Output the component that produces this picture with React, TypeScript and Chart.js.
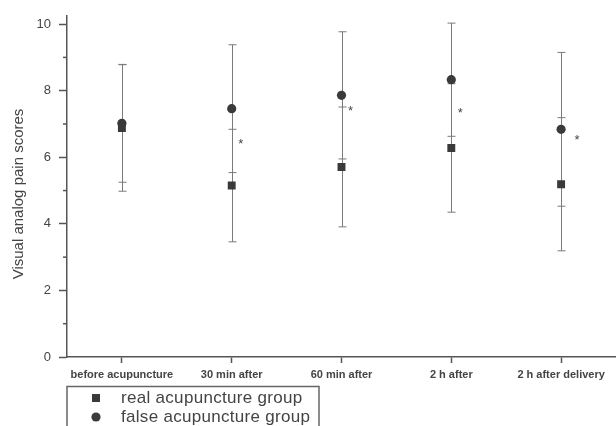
import React, { useEffect, useRef } from "react";
import { Chart, registerables } from "chart.js";

Chart.register(...registerables);

const categories = ["before acupuncture", "30 min after", "60 min after", "2 h after", "2 h after delivery"];
const realMean = [6.88, 5.15, 5.71, 6.28, 5.19];
const realSD = [1.9, 1.69, 1.8, 1.93, 2.0];
const falseMean = [7.02, 7.46, 7.86, 8.33, 6.84];
const falseSD = [1.77, 1.92, 1.91, 1.7, 2.31];
const starValues = [null, 6.49, 7.46, 7.41, 6.6];
const yTickValues = [0, 2, 4, 6, 8, 10];
const yMinorValues = [1, 3, 5, 7, 9];
const legendLabels = ["real acupuncture group", "false acupuncture group"];
const yTitle = "Visual analog pain scores";

const starDx = [0, 9, 9, 9, 16];
const MARK = "#3a3a3a";
const AXIS = "#555";
const BAR = "#7a7a7a";
const TEXT = "#444";
const FONT = "'Liberation Sans', Arial, sans-serif";

const errorBarPlugin = {
  id: "errorBars",
  beforeDatasetsDraw(chart: any) {
    const { ctx, scales } = chart;
    const x = scales.x;
    const y = scales.y;
    ctx.save();
    ctx.strokeStyle = BAR;
    ctx.lineWidth = 1;
    const series = [
      [realMean, realSD],
      [falseMean, falseSD],
    ];
    series.forEach(([m, s]) => {
      m.forEach((v: number, i: number) => {
        const px = Math.round(x.getPixelForValue(i)) + 0.5;
        const top = y.getPixelForValue(v + s[i]);
        const bot = y.getPixelForValue(v - s[i]);
        ctx.beginPath();
        ctx.moveTo(px, top);
        ctx.lineTo(px, bot);
        ctx.moveTo(px - 4, top);
        ctx.lineTo(px + 4, top);
        ctx.moveTo(px - 4, bot);
        ctx.lineTo(px + 4, bot);
        ctx.stroke();
      });
    });
    ctx.restore();
  },
  afterDraw(chart: any) {
    const { ctx, scales } = chart;
    const x = scales.x;
    const y = scales.y;
    ctx.save();
    // minor y ticks
    ctx.strokeStyle = AXIS;
    ctx.lineWidth = 1.5;
    yMinorValues.forEach((v) => {
      const py = y.getPixelForValue(v);
      ctx.beginPath();
      ctx.moveTo(chart.chartArea.left - 4, py);
      ctx.lineTo(chart.chartArea.left, py);
      ctx.stroke();
    });
    // y title
    ctx.save();
    ctx.fillStyle = TEXT;
    ctx.font = `15px ${FONT}`;
    ctx.textAlign = "center";
    ctx.textBaseline = "middle";
    ctx.translate(18.5, 194);
    ctx.rotate(-Math.PI / 2);
    ctx.fillText(yTitle, 0, 0);
    ctx.restore();
    // asterisks
    ctx.fillStyle = TEXT;
    ctx.font = `13px ${FONT}`;
    ctx.textAlign = "center";
    ctx.textBaseline = "middle";
    starValues.forEach((v, i) => {
      if (v == null) return;
      ctx.fillText("*", x.getPixelForValue(i) + starDx[i], y.getPixelForValue(v) + 3);
    });
    // legend
    ctx.strokeStyle = "#666";
    ctx.lineWidth = 1.5;
    ctx.strokeRect(67, 386.5, 252, 60);
    ctx.fillStyle = MARK;
    ctx.fillRect(92, 394, 8, 8);
    ctx.beginPath();
    ctx.arc(96, 417, 4.6, 0, Math.PI * 2);
    ctx.fill();
    ctx.fillStyle = TEXT;
    ctx.font = `17px ${FONT}`;
    try {
      (ctx as any).letterSpacing = "0.3px";
    } catch (e) {}
    ctx.textAlign = "left";
    ctx.textBaseline = "middle";
    ctx.fillText(legendLabels[0], 121, 398);
    ctx.fillText(legendLabels[1], 121, 417);
    ctx.restore();
  },
};

export default function App() {
  const ref = useRef<HTMLCanvasElement>(null);
  useEffect(() => {
    if (!ref.current) return;
    const chart = new Chart(ref.current, {
      type: "line",
      data: {
        labels: categories,
        datasets: [
          {
            label: legendLabels[0],
            data: realMean,
            showLine: false,
            pointStyle: "rect",
            pointRadius: 5.6,
            backgroundColor: MARK,
            borderColor: MARK,
            borderWidth: 0,
          },
          {
            label: legendLabels[1],
            data: falseMean,
            showLine: false,
            pointStyle: "circle",
            pointRadius: 4.6,
            backgroundColor: MARK,
            borderColor: MARK,
            borderWidth: 0,
          },
        ],
      },
      options: {
        animation: false,
        responsive: false,
        layout: { autoPadding: false, padding: { top: 10, right: 0, left: 0, bottom: 0 } },
        plugins: { legend: { display: false }, tooltip: { enabled: false } },
        scales: {
          x: {
            type: "category",
            offset: true,
            grid: { offset: false, drawOnChartArea: false, drawTicks: true, tickLength: 6, tickColor: AXIS, tickWidth: 1.5 },
            border: { color: AXIS, width: 1.5 },
            ticks: {
              color: TEXT,
              font: { family: FONT, size: 11, weight: "bold" },
              padding: 5,
              maxRotation: 0,
              autoSkip: false,
            },
            afterFit: (s: any) => {
              s.height = 69;
              s.paddingLeft = 0;
              s.paddingRight = 0;
            },
          },
          y: {
            min: 0,
            max: 10.25,
            grid: { drawOnChartArea: false, drawTicks: true, tickLength: 8, tickColor: AXIS, tickWidth: 1.5 },
            border: { color: AXIS, width: 1.5 },
            afterBuildTicks: (s: any) => {
              s.ticks = yTickValues.map((v) => ({ value: v }));
            },
            ticks: {
              color: TEXT,
              font: { family: FONT, size: 13 },
              padding: 8,
            },
            afterFit: (s: any) => {
              s.width = 67;
            },
          },
        },
      },
      plugins: [errorBarPlugin],
    } as any);
    return () => chart.destroy();
  }, []);
  return (
    <div style={{ position: "fixed", left: 0, top: 0, width: 616, height: 426, background: "#fff" }}>
      <canvas ref={ref} width={616} height={426} style={{ width: 616, height: 426 }} />
    </div>
  );
}
